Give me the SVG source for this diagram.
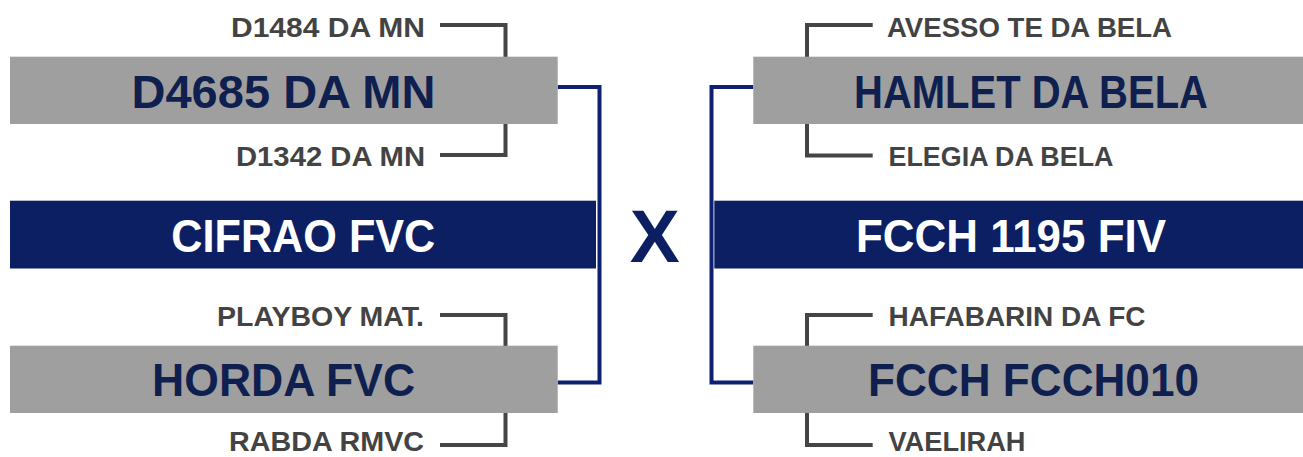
<svg xmlns="http://www.w3.org/2000/svg" width="1303" height="457" viewBox="0 0 1303 457">
<style>
.box{fill:#9f9f9f}
.bar{fill:#0c1f63}
.main{font-family:"Liberation Sans",Arial,sans-serif;font-weight:bold;font-size:47px;fill:#0f1f4f}
.mainw{font-family:"Liberation Sans",Arial,sans-serif;font-weight:bold;font-size:47px;fill:#ffffff}
.sub{font-family:"Liberation Sans",Arial,sans-serif;font-weight:bold;font-size:27px;fill:#434343}
.gl{fill:none;stroke:#454545;stroke-width:4;stroke-linejoin:miter}
.bl{fill:none;stroke:#0d2170;stroke-width:4;stroke-linejoin:miter}
.x{font-family:"Liberation Sans",Arial,sans-serif;font-weight:bold;font-size:75px;fill:#0c1f63}
</style>
<g id="connectors">
<polyline class="gl" points="440,25 505.5,25 505.5,57"/>
<polyline class="gl" points="440,155 505.5,155 505.5,124"/>
<polyline class="gl" points="440,315 505.5,315 505.5,346"/>
<polyline class="gl" points="440,445 505.5,445 505.5,413"/>
<polyline class="gl" points="872.7,25 807,25 807,57"/>
<polyline class="gl" points="872.7,155.5 807,155.5 807,124"/>
<polyline class="gl" points="872.7,315 807,315 807,346"/>
<polyline class="gl" points="872.7,445 807,445 807,413"/>
<polyline class="bl" points="557.7,87 599.5,87 599.5,382.5 557.7,382.5"/>
<polyline class="bl" points="753.3,87 711.5,87 711.5,382.5 753.3,382.5"/>
</g>
<g id="n-d4685">
<rect class="box" x="10" y="56.7" width="547.7" height="67.3"/>
<text class="main" x="283.5" y="108.3" text-anchor="middle" textLength="304" lengthAdjust="spacingAndGlyphs">D4685 DA MN</text>
</g>
<g id="n-d1484"><text class="sub" x="425" y="36.5" text-anchor="end" textLength="194" lengthAdjust="spacingAndGlyphs">D1484 DA MN</text></g>
<g id="n-d1342"><text class="sub" x="425" y="166" text-anchor="end" textLength="189" lengthAdjust="spacingAndGlyphs">D1342 DA MN</text></g>
<g id="n-cifrao">
<rect class="bar" x="10" y="200.7" width="586" height="67.8"/>
<text class="mainw" x="303.3" y="252" text-anchor="middle" textLength="264" lengthAdjust="spacingAndGlyphs">CIFRAO FVC</text>
</g>
<g id="n-playboy"><text class="sub" x="424" y="325.5" text-anchor="end" textLength="207" lengthAdjust="spacingAndGlyphs">PLAYBOY MAT.</text></g>
<g id="n-horda">
<rect class="box" x="10" y="345.7" width="547.7" height="67.3"/>
<text class="main" x="283.6" y="396.3" text-anchor="middle" textLength="263" lengthAdjust="spacingAndGlyphs">HORDA FVC</text>
</g>
<g id="n-rabda"><text class="sub" x="424" y="451" text-anchor="end" textLength="195" lengthAdjust="spacingAndGlyphs">RABDA RMVC</text></g>
<g id="n-x"><text class="x" x="654.7" y="261.7" text-anchor="middle">X</text></g>
<g id="n-avesso"><text class="sub" x="887" y="36.5" textLength="285" lengthAdjust="spacingAndGlyphs">AVESSO TE DA BELA</text></g>
<g id="n-hamlet">
<rect class="box" x="753.3" y="56.7" width="549.7" height="67.3"/>
<text class="main" x="1031" y="108.3" text-anchor="middle" textLength="354" lengthAdjust="spacingAndGlyphs">HAMLET DA BELA</text>
</g>
<g id="n-elegia"><text class="sub" x="888.5" y="166" textLength="225" lengthAdjust="spacingAndGlyphs">ELEGIA DA BELA</text></g>
<g id="n-fcch1195">
<rect class="bar" x="714.3" y="200.7" width="588.7" height="67.8"/>
<text class="mainw" x="1011" y="252" text-anchor="middle" textLength="310" lengthAdjust="spacingAndGlyphs">FCCH 1195 FIV</text>
</g>
<g id="n-hafabarin"><text class="sub" x="888.5" y="325.5" textLength="257" lengthAdjust="spacingAndGlyphs">HAFABARIN DA FC</text></g>
<g id="n-fcch010">
<rect class="box" x="753.3" y="345.7" width="549.7" height="67.3"/>
<text class="main" x="1033.5" y="396.3" text-anchor="middle" textLength="331" lengthAdjust="spacingAndGlyphs">FCCH FCCH010</text>
</g>
<g id="n-vaelirah"><text class="sub" x="888.5" y="451" textLength="137" lengthAdjust="spacingAndGlyphs">VAELIRAH</text></g>
</svg>
